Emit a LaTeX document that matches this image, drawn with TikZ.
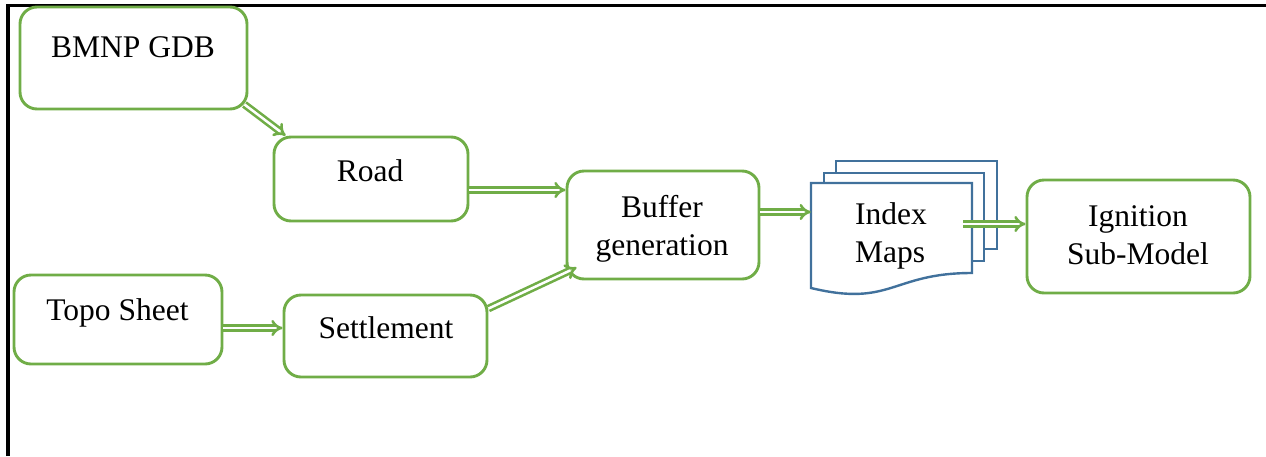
\documentclass[tikz,border=0pt]{standalone}
\usepackage{fontspec}
\setmainfont{Liberation Serif}
\usetikzlibrary{arrows.meta}
\definecolor{boxgreen}{RGB}{112,173,71}
\definecolor{pageblue}{RGB}{65,113,156}
\begin{document}
\begin{tikzpicture}[x=1pt,y=-1pt,
  box/.style={draw=boxgreen, line width=2.9pt, rounded corners=17pt, fill=white, inner sep=0pt},
  txt/.style={font=\fontsize{31.5}{38}\selectfont, anchor=base, inner sep=0pt},
  page/.style={draw=pageblue, line width=2.4pt, fill=white, line join=miter},
  flow/.style={draw=boxgreen, line width=2.6pt, double=white, double distance=2.5pt, -{Implies[scale=1.3]}}]

\useasboundingbox (0,0) rectangle (1266,456);

% open frame: top and left rules only
\draw[line width=3.2pt] (8,456) -- (8,5.5) -- (1266,5.5);

% process boxes
\node[box, minimum width=227pt, minimum height=102pt] (bmnp)       at (133.5,58)  {};
\node[box, minimum width=194pt, minimum height=84pt]  (road)       at (371,179)   {};
\node[box, minimum width=208pt, minimum height=89pt]  (topo)       at (118,319.5) {};
\node[box, minimum width=203pt, minimum height=82pt]  (settlement) at (385.5,336) {};
\node[box, minimum width=192pt, minimum height=108pt] (buffer)     at (663,225)   {};
\node[box, minimum width=223pt, minimum height=113pt] (ignition)   at (1138.5,236.5) {};

% stacked document pages
\draw[page] (836,161) rectangle (997,249);
\draw[page] (824,173) rectangle (984,261);
\draw[page] (811,183) -- (972,183) -- (972,273)
   .. controls (891.5,273) and (891.5,307.4) .. (811,288) -- cycle;
\node[minimum width=161pt, minimum height=105pt, inner sep=0pt] (index) at (891.5,235.5) {};
\coordinate (indexout) at (963,224);

% labels
\node[txt] (bmnp-t)      at (133,57)   {BMNP GDB};
\node[txt] (road-t)      at (370,181)  {Road};
\node[txt] (topo-t)      at (117.5,320) {Topo Sheet};
\node[txt] (settle-t)    at (386,338)  {Settlement};
\node[txt] (buffer-t1)   at (662,217)  {Buffer};
\node[txt] (buffer-t2)   at (662,255)  {generation};
\node[txt] (index-t1)    at (891,224)  {Index};
\node[txt] (index-t2)    at (890,262)  {Maps};
\node[txt] (ignition-t1) at (1138,226) {Ignition};
\node[txt] (ignition-t2) at (1138,264) {Sub-Model};

% connectors
\draw[flow] ([xshift=-4pt,yshift=6pt]bmnp.south east) -- ([xshift=13pt]road.north west);
\draw[flow] ([yshift=-11pt]road.east) -- ([yshift=-11pt]road.east -| buffer.west);
\draw[flow] ([yshift=-8.5pt]topo.east) -- ([yshift=-8.5pt]topo.east -| settlement.west);
\draw[flow] ([yshift=-15pt]settlement.north east) -- ([xshift=11pt,yshift=13pt]buffer.south west);
\draw[flow] ([yshift=13pt]buffer.east) -- ([yshift=13pt]buffer.east -| index.west);
\draw[flow] (indexout) -- (indexout -| ignition.west);

\end{tikzpicture}
\end{document}
